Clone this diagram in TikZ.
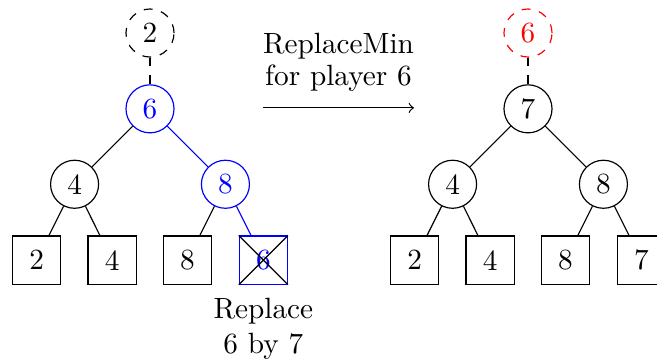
\documentclass[tikz,border=0pt]{standalone}
\usepackage{tikz}
\usetikzlibrary{positioning}
\tikzstyle{player}=[circle,draw,minimum size=16.4pt,inner sep=0pt]
\tikzstyle{winner}=[player,dashed]
\tikzstyle{leaf}=[rectangle,draw,minimum size=16.4pt,inner sep=0pt]
\tikzstyle{branch}=[thin]
\tikzstyle{champ}=[dashed]

\begin{document}
\begin{tikzpicture}
\useasboundingbox (-1.8,1.306) rectangle (6.084,-3.038);
% before
\node[winner] (w) at (0,0.91) {2};
\node[player,blue] (r) at (0,0) {6};
\node[player] (a) at (-0.905,-0.905) {4};
\node[player,blue] (b) at (0.905,-0.905) {8};
\node[leaf] (a1) at (-1.36,-1.815) {2};
\node[leaf] (a2) at (-0.455,-1.815) {4};
\node[leaf] (b1) at (0.45,-1.815) {8};
\node[leaf,blue] (b2) at (1.36,-1.815) {6};
\node[align=center,below=1pt of b2] (note) {Replace\\6 by 7};
% after
\node[winner,red] (w') at (4.536,0.91) {6};
\node[player] (r') at (4.536,0) {7};
\node[player] (a') at (3.631,-0.905) {4};
\node[player] (b') at (5.441,-0.905) {8};
\node[leaf] (a1') at (3.176,-1.815) {2};
\node[leaf] (a2') at (4.081,-1.815) {4};
\node[leaf] (b1') at (4.986,-1.815) {8};
\node[leaf] (b2') at (5.896,-1.815) {7};
% step
\node[align=center,font=\fontsize{10}{10.9}\selectfont] (op) at (2.262,0.556) {ReplaceMin\\for player 6};
\coordinate (s) at (1.356,0.012);
\coordinate (e) at (3.168,0.012);
%Drawing Edges
\draw[champ] (w) -- (r);
\draw[branch] (r) -- (a);
\draw[branch,blue] (r) -- (b);
\draw[branch] (a) -- (a1);
\draw[branch] (a) -- (a2);
\draw[branch] (b) -- (b1);
\draw[branch,blue] (b) -- (b2);
\draw (b2.north west) -- (b2.south east);
\draw (b2.north east) -- (b2.south west);
\draw[champ] (w') -- (r');
\draw[branch] (r') -- (a');
\draw[branch] (r') -- (b');
\draw[branch] (a') -- (a1');
\draw[branch] (a') -- (a2');
\draw[branch] (b') -- (b1');
\draw[branch] (b') -- (b2');
\draw[->] (s) -- (e);
\end{tikzpicture}
\end{document}
